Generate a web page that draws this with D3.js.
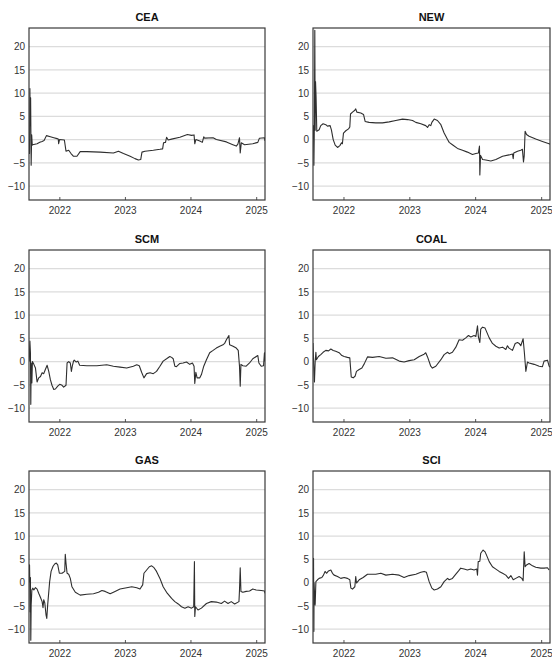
<!DOCTYPE html>
<html>
<head>
<meta charset="utf-8">
<script src="https://cdn.jsdelivr.net/npm/d3@7"></script>
<style>
  html, body { margin: 0; padding: 0; background: #fff; }
  svg { display: block; font-family: "Liberation Sans", Arial, sans-serif; }
</style>
</head>
<body>
<svg id="chart" width="552" height="659"></svg>
<script>
// ---------------- DATA ----------------
const panelNames = ["CEA", "NEW", "SCM", "COAL", "GAS", "SCI"];
const yTicks = [-10, -5, 0, 5, 10, 15, 20];
const xTickYears = ["2022-01-01", "2023-01-01", "2024-01-01", "2025-01-01"];
const xTickLabels = ["2022", "2023", "2024", "2025"];
const dateDomain = ["2021-07-16", "2025-02-19"];
const valueDomain = [-13, 24];

const CEA = [["2021-07-17",0],["2021-07-19",-3],["2021-07-21",11],["2021-07-23",3],["2021-07-25",9],["2021-07-28",-5.5],["2021-07-31",1],["2021-08-03",-1.2],["2021-08-05",-1.1],["2021-08-18",-1.0],["2021-08-30",-0.9],["2021-09-14",-0.6],["2021-09-27",-0.4],["2021-10-08",-0.2],["2021-10-21",0.85],["2021-11-12",0.6],["2021-12-01",0.4],["2021-12-19",0.2],["2021-12-26",0.1],["2021-12-28",-0.9],["2022-01-02",0],["2022-01-29",-0.1],["2022-02-07",-2.5],["2022-02-22",-2.3],["2022-03-07",-3],["2022-03-21",-3.6],["2022-04-09",-3.6],["2022-04-27",-2.6],["2022-06-03",-2.6],["2022-08-16",-2.7],["2022-10-29",-2.9],["2022-11-26",-2.5],["2022-12-24",-3],["2023-01-30",-3.6],["2023-02-26",-4.1],["2023-03-17",-4.4],["2023-03-30",-4.3],["2023-04-06",-2.7],["2023-04-23",-2.5],["2023-06-08",-2.3],["2023-07-15",-2.1],["2023-07-30",-2],["2023-08-04",-0.7],["2023-08-15",-0.6],["2023-08-21",0.5],["2023-08-30",-0.1],["2023-09-18",0.1],["2023-11-03",0.5],["2023-12-15",1.1],["2024-01-07",0.9],["2024-01-21",1.0],["2024-01-25",-0.9],["2024-01-31",0],["2024-02-22",-0.3],["2024-03-07",-0.6],["2024-03-15",0.6],["2024-03-20",0.3],["2024-05-06",0.4],["2024-05-24",0],["2024-07-19",-0.5],["2024-08-24",-1.1],["2024-09-12",-1.4],["2024-09-21",-1],["2024-09-30",0.4],["2024-10-04",-2.9],["2024-10-10",-0.7],["2024-10-28",-1.1],["2024-12-13",-0.9],["2025-01-10",-0.6],["2025-01-19",0.3],["2025-02-16",0.4],["2025-02-19",-0.3]];

const NEW = [["2021-07-16",0],["2021-07-19",3],["2021-07-21",-5.5],["2021-07-24",5],["2021-07-26",23.5],["2021-07-28",2],["2021-07-30",12.5],["2021-08-02",9.3],["2021-08-06",1.8],["2021-08-19",2.1],["2021-08-28",3],["2021-09-10",3.4],["2021-09-25",3.2],["2021-10-04",2.9],["2021-10-19",3],["2021-10-26",2.1],["2021-11-05",0],["2021-11-16",-1.2],["2021-11-29",-1.7],["2021-12-12",-1.3],["2021-12-21",-0.7],["2021-12-26",-0.9],["2022-01-01",1.4],["2022-01-14",1.9],["2022-01-29",2.3],["2022-02-05",2.7],["2022-02-09",5.5],["2022-02-20",5.9],["2022-03-05",6.3],["2022-03-10",6.6],["2022-03-16",5.9],["2022-04-07",5.7],["2022-04-22",5.4],["2022-05-01",3.9],["2022-05-23",3.7],["2022-06-29",3.6],["2022-08-05",3.6],["2022-09-11",3.8],["2022-10-18",4.1],["2022-11-24",4.4],["2022-12-22",4.3],["2023-01-19",4.1],["2023-02-06",3.7],["2023-03-06",3.4],["2023-04-02",3],["2023-04-12",2.6],["2023-04-21",3.2],["2023-04-30",3],["2023-05-06",3.7],["2023-05-19",4.4],["2023-06-06",4.1],["2023-06-25",3.2],["2023-07-13",1.4],["2023-08-01",0],["2023-08-10",-0.6],["2023-08-28",-1.1],["2023-09-25",-1.9],["2023-10-23",-2.3],["2023-11-19",-2.7],["2023-12-17",-3.2],["2024-01-05",-3],["2024-01-19",-2.9],["2024-01-25",-1.4],["2024-01-27",-7.6],["2024-01-31",-3.4],["2024-02-11",-4.3],["2024-02-29",-4.4],["2024-03-28",-4.6],["2024-04-25",-4.3],["2024-06-01",-3.6],["2024-07-07",-3.3],["2024-07-26",-3.1],["2024-07-30",-4.1],["2024-08-02",-2.9],["2024-08-23",-2.5],["2024-09-10",-2.3],["2024-09-19",-2.1],["2024-09-25",-4.8],["2024-09-29",-3.5],["2024-10-04",1.8],["2024-10-12",1.1],["2024-10-26",0.7],["2024-12-02",0.1],["2025-01-08",-0.4],["2025-02-14",-0.9],["2025-02-19",-1]];

const SCM = [["2021-07-17",0],["2021-07-21",4.4],["2021-07-24",1.9],["2021-07-26",-9.2],["2021-07-28",-0.3],["2021-08-01",-4.6],["2021-08-04",0],["2021-08-12",-0.6],["2021-08-21",-1.4],["2021-08-30",-4.4],["2021-09-08",-3.5],["2021-09-18",-3.2],["2021-09-27",-2.4],["2021-10-06",-2.6],["2021-10-15",-1.7],["2021-10-25",-0.8],["2021-11-03",-2.1],["2021-11-12",-3.9],["2021-11-21",-5.1],["2021-12-01",-6],["2021-12-10",-5.9],["2021-12-23",-5.3],["2022-01-03",-4.9],["2022-01-16",-5.1],["2022-01-25",-5.5],["2022-02-07",-5.1],["2022-02-13",-0.3],["2022-02-22",0],["2022-03-03",-0.3],["2022-03-09",-2.1],["2022-03-14",-1],["2022-03-21",0.1],["2022-03-25",0.3],["2022-04-05",-0.1],["2022-04-14",0.1],["2022-04-24",-0.8],["2022-06-03",-0.9],["2022-07-29",-0.9],["2022-09-22",-0.7],["2022-10-29",-1],["2022-12-05",-1.2],["2023-01-11",-1.4],["2023-02-17",-1],["2023-03-08",-0.7],["2023-03-22",-0.9],["2023-04-04",-2.3],["2023-04-17",-3.5],["2023-05-02",-2.6],["2023-05-21",-2.4],["2023-06-08",-2.6],["2023-06-26",-2.1],["2023-07-15",-1],["2023-08-02",0.1],["2023-08-21",0.6],["2023-09-08",1.1],["2023-09-18",0.9],["2023-09-27",0.6],["2023-10-06",-1],["2023-10-15",-1.1],["2023-11-03",-0.4],["2023-11-21",-0.3],["2023-12-10",-0.1],["2023-12-28",-0.6],["2024-01-12",-0.3],["2024-01-21",-1],["2024-01-25",-4.7],["2024-01-31",-2.3],["2024-02-07",-3.5],["2024-02-22",-3.5],["2024-03-02",-2.8],["2024-03-15",-1],["2024-03-30",0.4],["2024-04-17",1.9],["2024-05-06",2.4],["2024-05-24",2.9],["2024-06-12",3.3],["2024-06-30",3.6],["2024-07-09",3.9],["2024-07-19",4.7],["2024-08-02",5.6],["2024-08-06",3.6],["2024-08-25",3.3],["2024-09-12",2.9],["2024-09-23",2.4],["2024-09-30",-1],["2024-10-04",-5.3],["2024-10-08",-0.6],["2024-10-19",-0.9],["2024-11-06",-1],["2024-11-25",-0.3],["2024-12-13",0.6],["2025-01-10",1.3],["2025-01-16",-0.3],["2025-01-29",-1],["2025-02-11",-0.9],["2025-02-16",1.9],["2025-02-19",0]];

const COAL = [["2021-07-16",4],["2021-07-21",-1.7],["2021-07-24",-4.4],["2021-07-28",0],["2021-08-01",2],["2021-08-04",0.4],["2021-08-15",1.1],["2021-08-28",1.5],["2021-09-10",2],["2021-09-25",2.4],["2021-10-10",2.3],["2021-10-23",2.7],["2021-11-05",2.4],["2021-11-19",2.2],["2021-12-08",1.9],["2021-12-23",1.3],["2022-01-05",1.1],["2022-01-23",0.9],["2022-02-05",0.8],["2022-02-13",-3.3],["2022-02-24",-3.5],["2022-03-07",-3.1],["2022-03-14",-2.1],["2022-03-29",-1.7],["2022-04-13",-1.4],["2022-04-26",-0.5],["2022-05-14",1],["2022-06-11",0.9],["2022-07-18",1.1],["2022-08-24",0.7],["2022-09-30",0.8],["2022-11-06",0.1],["2022-12-03",-0.1],["2022-12-31",0.2],["2023-01-28",0.4],["2023-02-25",1.1],["2023-03-24",1.6],["2023-04-02",1.9],["2023-04-12",1],["2023-04-30",-1],["2023-05-09",-1.4],["2023-05-28",-1],["2023-06-25",0.4],["2023-07-13",1.5],["2023-08-01",2],["2023-08-10",1.7],["2023-08-28",2],["2023-09-16",3.1],["2023-10-04",4.7],["2023-10-23",4.6],["2023-11-10",5.1],["2023-11-25",5.6],["2023-12-08",5.3],["2023-12-26",5.6],["2024-01-05",5.4],["2024-01-14",7.7],["2024-01-19",5.3],["2024-01-27",4.1],["2024-02-01",7],["2024-02-11",7.4],["2024-02-25",7.2],["2024-03-19",5.1],["2024-04-06",3.9],["2024-04-25",3.3],["2024-05-13",2.9],["2024-06-01",3.1],["2024-06-19",2.6],["2024-06-28",3.4],["2024-07-07",2.9],["2024-07-26",2.4],["2024-08-10",3.9],["2024-08-23",4.1],["2024-09-01",3.9],["2024-09-10",3.4],["2024-09-23",4.9],["2024-09-30",1.9],["2024-10-08",-2.1],["2024-10-17",-0.1],["2024-10-26",-0.3],["2024-11-23",-0.6],["2024-12-21",-1],["2025-01-08",-1.1],["2025-01-17",0.1],["2025-02-05",0.3],["2025-02-14",-1],["2025-02-19",-1.2]];

const GAS = [["2021-07-17",0],["2021-07-19",3.8],["2021-07-21",-1.2],["2021-07-22",-6.3],["2021-07-24",1.1],["2021-07-26",-12.4],["2021-07-28",-4.8],["2021-08-01",-1.6],["2021-08-06",-1.2],["2021-08-12",-1.6],["2021-08-21",-1.1],["2021-08-30",-1.4],["2021-09-08",-2.3],["2021-09-18",-3.2],["2021-09-27",-4.1],["2021-10-02",-5.4],["2021-10-06",-3.7],["2021-10-12",-4.4],["2021-10-19",-7],["2021-10-23",-7.7],["2021-10-28",-4.8],["2021-11-08",0.2],["2021-11-16",2.4],["2021-11-27",3.5],["2021-12-06",4],["2021-12-15",4.2],["2021-12-23",3.8],["2022-01-01",2],["2022-01-16",2],["2022-01-31",2.4],["2022-02-03",6.1],["2022-02-07",4.2],["2022-02-13",2],["2022-02-22",1.8],["2022-03-03",0.9],["2022-03-12",-0.9],["2022-03-31",-2.1],["2022-04-27",-2.7],["2022-06-03",-2.5],["2022-07-10",-2.4],["2022-08-07",-2.1],["2022-08-26",-1.7],["2022-09-13",-1.9],["2022-10-11",-2.4],["2022-11-07",-1.9],["2022-12-05",-1.4],["2023-01-11",-1.1],["2023-02-08",-0.9],["2023-03-08",-1.1],["2023-03-26",-1.4],["2023-04-10",-0.5],["2023-04-17",2],["2023-05-02",2.7],["2023-05-17",3.4],["2023-05-30",3.6],["2023-06-12",3.2],["2023-06-26",2.4],["2023-07-15",0.9],["2023-08-02",-0.9],["2023-08-21",-2.1],["2023-09-18",-3.4],["2023-10-06",-4.1],["2023-10-25",-4.6],["2023-11-12",-5.2],["2023-12-01",-5.5],["2023-12-19",-5.2],["2024-01-07",-5.5],["2024-01-19",-5.2],["2024-01-23",4.5],["2024-01-25",-7.3],["2024-01-29",-5.2],["2024-02-12",-5.9],["2024-03-02",-5.5],["2024-03-30",-4.5],["2024-04-26",-4.1],["2024-05-24",-4.2],["2024-06-21",-4.5],["2024-07-09",-4],["2024-07-28",-4.5],["2024-08-15",-4.1],["2024-09-03",-4.6],["2024-09-27",-4.1],["2024-09-30",-1.6],["2024-10-04",3.2],["2024-10-08",-1.9],["2024-10-19",-2.1],["2024-11-06",-1.9],["2024-11-25",-1.8],["2024-12-13",-1.4],["2025-01-01",-1.6],["2025-01-29",-1.7],["2025-02-16",-1.8],["2025-02-19",-2.3]];

const SCI = [["2021-07-16",0],["2021-07-19",5.2],["2021-07-20",-4.8],["2021-07-21",-10.5],["2021-07-22",0],["2021-07-24",-1.9],["2021-07-28",-4.8],["2021-08-01",0.2],["2021-08-10",0.6],["2021-08-19",0.9],["2021-09-03",1.1],["2021-09-12",1.6],["2021-09-21",2.4],["2021-09-29",2],["2021-10-10",2.5],["2021-10-23",2.7],["2021-11-01",2],["2021-11-10",1.6],["2021-11-29",1.3],["2021-12-17",0.9],["2022-01-05",1.1],["2022-01-23",0.9],["2022-02-05",0.6],["2022-02-11",-1.2],["2022-02-20",-1.4],["2022-03-05",-0.9],["2022-03-10",1.3],["2022-03-14",-0.1],["2022-03-29",0.6],["2022-04-20",1.1],["2022-05-14",1.8],["2022-06-29",1.8],["2022-07-27",2],["2022-08-24",1.6],["2022-09-30",1.8],["2022-11-06",1.6],["2022-12-03",1.1],["2022-12-31",1.5],["2023-02-06",1.8],["2023-03-06",2.2],["2023-03-24",2.4],["2023-04-06",2.2],["2023-04-21",0.2],["2023-05-06",-1.2],["2023-05-19",-1.6],["2023-06-06",-1.4],["2023-06-25",-0.9],["2023-07-13",0.2],["2023-08-01",0.9],["2023-08-10",0.6],["2023-08-28",0.9],["2023-09-16",1.8],["2023-10-01",2.5],["2023-10-13",3.1],["2023-11-01",2.9],["2023-11-19",2.7],["2023-12-08",2.9],["2023-12-26",2.7],["2024-01-10",2.9],["2024-01-14",1.6],["2024-01-18",4.5],["2024-01-27",4.6],["2024-02-01",6.3],["2024-02-14",7],["2024-02-25",6.6],["2024-03-04",5.9],["2024-03-19",4.5],["2024-04-06",3.4],["2024-04-25",2.9],["2024-05-13",2.4],["2024-06-01",2],["2024-06-19",1.6],["2024-07-04",0.9],["2024-07-17",1.5],["2024-07-30",0.6],["2024-08-13",0.9],["2024-09-01",1.3],["2024-09-16",0.9],["2024-09-23",0.4],["2024-09-29",6.6],["2024-10-04",3.4],["2024-10-12",3.8],["2024-10-26",4.1],["2024-11-14",3.6],["2024-12-02",3.3],["2024-12-30",3.1],["2025-01-17",3.1],["2025-02-05",3.2],["2025-02-14",2.7]];

const seriesList = [CEA, NEW, SCM, COAL, GAS, SCI];

// ---------------- LAYOUT ----------------
const colLeft = [29, 313];
const colWidth = [236, 237];
const rowTop = [28, 250, 471];
const panelHeight = 172;

const parse = d3.timeParse("%Y-%m-%d");
const svg = d3.select("#chart");

panelNames.forEach((name, i) => {
  const col = i % 2, row = Math.floor(i / 2);
  const w = colWidth[col], h = panelHeight;
  const g = svg.append("g").attr("transform", `translate(${colLeft[col]},${rowTop[row]})`);

  const x = d3.scaleTime().domain(dateDomain.map(parse)).range([0, w]);
  const y = d3.scaleLinear().domain(valueDomain).range([h, 0]);

  // gridlines
  g.append("g").selectAll("line").data(yTicks).join("line")
    .attr("x1", 0).attr("x2", w)
    .attr("y1", d => y(d)).attr("y2", d => y(d))
    .attr("stroke", "#dcdcdc").attr("stroke-width", 1.3);

  // y axis labels
  const yAxis = d3.axisLeft(y).tickValues(yTicks).tickSize(0).tickPadding(4);
  const ya = g.append("g").call(yAxis);
  ya.select(".domain").remove();
  ya.selectAll("text").attr("font-size", 10).attr("fill", "#333")
    .attr("font-family", "'Liberation Sans', Arial, sans-serif");

  // x axis (inward ticks)
  const xAxis = d3.axisBottom(x).tickValues(xTickYears.map(parse))
    .tickFormat((d, k) => xTickLabels[k]).tickSize(-3).tickPadding(7);
  const xa = g.append("g").attr("transform", `translate(0,${h})`).call(xAxis);
  xa.select(".domain").remove();
  xa.selectAll(".tick line").attr("stroke", "#555");
  xa.selectAll("text").attr("font-size", 10).attr("fill", "#333")
    .attr("font-family", "'Liberation Sans', Arial, sans-serif");

  // clip
  const clipId = "clip" + i;
  g.append("clipPath").attr("id", clipId).append("rect")
    .attr("width", w).attr("height", h);

  // line
  const line = d3.line().x(d => x(parse(d[0]))).y(d => y(d[1]));
  g.append("path").datum(seriesList[i])
    .attr("clip-path", `url(#${clipId})`)
    .attr("fill", "none").attr("stroke", "#2e2e2e").attr("stroke-width", 1.1)
    .attr("stroke-linejoin", "round")
    .attr("d", line);

  // frame
  g.append("rect").attr("x", 0).attr("y", 0).attr("width", w).attr("height", h)
    .attr("fill", "none").attr("stroke", "#3a3a3a").attr("stroke-width", 1.2);

  // title
  g.append("text").attr("x", w / 2).attr("y", -7.5)
    .attr("text-anchor", "middle").attr("font-size", 11).attr("font-weight", "bold")
    .attr("fill", "#111").text(name);
});
</script>
</body>
</html>
